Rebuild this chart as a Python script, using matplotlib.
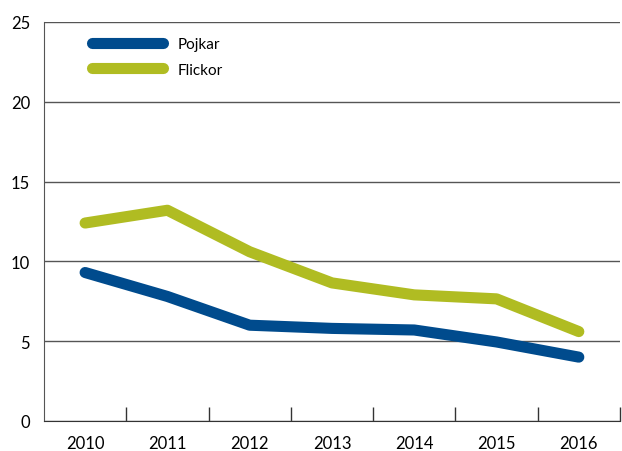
import numpy as np
import matplotlib
matplotlib.use("Agg")
import matplotlib.pyplot as plt

years = ["2010", "2011", "2012", "2013", "2014", "2015", "2016"]
pojkar = [9.3, 7.8, 6.0, 5.8, 5.7, 4.95, 4.0]
flickor = [12.4, 13.2, 10.6, 8.65, 7.9, 7.65, 5.6]

plt.rcParams['font.family'] = ['Lato', 'DejaVu Sans']

fig = plt.figure(figsize=(6.22, 4.52), dpi=100)
ax = fig.add_axes([0.0707, 0.0664, 0.926, 0.883])
x = np.arange(len(years))
ax.plot(x, pojkar, color="#004B8D", lw=8, solid_capstyle='round', solid_joinstyle='round', label="Pojkar", zorder=3)
ax.plot(x, flickor, color="#B0BC22", lw=8, solid_capstyle='round', solid_joinstyle='round', label="Flickor", zorder=3)

ax.set_xlim(-0.5, len(years) - 0.5)
ax.set_ylim(0, 25)
ax.set_yticks([0, 5, 10, 15, 20, 25])
ax.yaxis.grid(True, color="#555555", lw=1)
ax.set_axisbelow(True)
ax.tick_params(axis='y', length=0, labelsize=12, pad=10)
ax.set_xticks(x)
ax.set_xticklabels(years, fontsize=12)
ax.set_xticks(np.arange(0.5, len(years), 1), minor=True)
ax.tick_params(axis='x', which='major', length=0, pad=10)
ax.tick_params(axis='x', which='minor', direction='in', length=10, width=1, color="#333333")
for s in ["top", "right"]:
    ax.spines[s].set_visible(False)
ax.spines["left"].set_color("#555555")
ax.spines["bottom"].set_color("#333333")
leg = ax.legend(loc='upper left', bbox_to_anchor=(0.06, 0.996), frameon=False,
                handlelength=4.6, handletextpad=1.0, labelspacing=0.75, fontsize=11)
fig.savefig("out.png", dpi=100)
